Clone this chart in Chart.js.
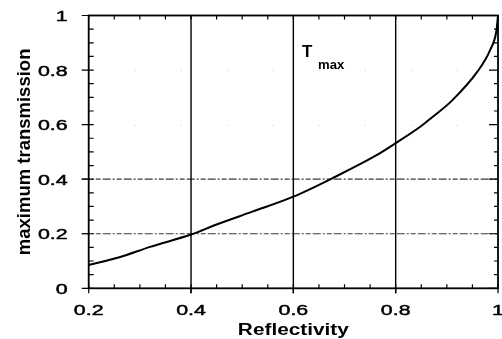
<!DOCTYPE html>
<html><head><meta charset="utf-8">
<script src="https://cdn.jsdelivr.net/npm/chart.js@4/dist/chart.umd.min.js"></script>
<style>html,body{margin:0;padding:0;background:#fff;overflow:hidden}#wrap{width:502px;height:339px;position:relative}</style>
</head><body><div id="wrap"><canvas id="c" width="502" height="339"></canvas></div>
<script>
// ---- data ----
const reflectivity    = [0.2, 0.26, 0.32, 0.4, 0.45, 0.52, 0.6, 0.68, 0.76, 0.8, 0.85, 0.87, 0.91, 0.96, 0.985, 0.997, 1.0];
const maxTransmission = [0.085, 0.114, 0.152, 0.197, 0.234, 0.281, 0.336, 0.407, 0.485, 0.532, 0.595, 0.625, 0.688, 0.795, 0.875, 0.945, 1.0];
const xTickLabels = ['0.2', '0.4', '0.6', '0.8', '1'];
const yTickLabels = ['0', '0.2', '0.4', '0.6', '0.8', '1'];
const xGridValues = [0.4, 0.6, 0.8];
const yGridDashed = [0.2, 0.4];
const yGridFaint  = [0.6, 0.8];
const xTitle = 'Reflectivity';
const yTitle = 'maximum transmission';
const curveMain = 'T';
const curveSub = 'max';

function sText(ctx, txt, x, y, font, align, sx, stroke) {
  ctx.save();
  ctx.translate(x, y);
  ctx.scale(sx, 1);
  ctx.font = font;
  ctx.textAlign = align;
  ctx.textBaseline = 'alphabetic';
  ctx.fillStyle = '#000';
  ctx.fillText(txt, 0, 0);
  if (stroke) { ctx.strokeStyle = '#000'; ctx.lineWidth = stroke; ctx.strokeText(txt, 0, 0); }
  ctx.restore();
}

const framePlugin = {
  id: 'frame',
  beforeDatasetsDraw(chart) {
    const ctx = chart.ctx, xs = chart.scales.x, ys = chart.scales.y, a = chart.chartArea;
    ctx.save();
    // very faint horizontal grid
    ctx.strokeStyle = 'rgba(0,0,0,0.22)'; ctx.lineWidth = 1; ctx.setLineDash([1, 45]);
    yGridFaint.forEach(v => { const y = Math.round(ys.getPixelForValue(v)) + 0.5; ctx.beginPath(); ctx.moveTo(a.left, y); ctx.lineTo(a.right, y); ctx.stroke(); });
    // dash-dot horizontal grid
    ctx.strokeStyle = '#3a3a3a'; ctx.lineWidth = 1.2; ctx.setLineDash([8, 2, 2, 2, 5, 2]);
    yGridDashed.forEach(v => { const y = ys.getPixelForValue(v); ctx.beginPath(); ctx.moveTo(a.left - 7, y); ctx.lineTo(a.right, y); ctx.stroke(); });
    ctx.setLineDash([]);
    // vertical grid
    ctx.strokeStyle = '#000'; ctx.lineWidth = 1.4;
    xGridValues.forEach(v => { const x = xs.getPixelForValue(v); ctx.beginPath(); ctx.moveTo(x, a.top); ctx.lineTo(x, a.bottom + 5); ctx.stroke(); });
    // frame
    ctx.lineWidth = 1.8;
    ctx.strokeRect(a.left, a.top, a.right - a.left, a.bottom - a.top);
    // minor/major ticks
    ctx.lineWidth = 1.2;
    for (let i = 0; i <= 16; i++) {
      const v = 0.2 + i * 0.05; const x = xs.getPixelForValue(v);
      const major = i % 4 === 0;
      ctx.beginPath();
      ctx.moveTo(x, a.bottom - 4); ctx.lineTo(x, a.bottom + (major ? 5 : 0));
      ctx.moveTo(x, a.top); ctx.lineTo(x, a.top + 4);
      ctx.stroke();
    }
    for (let i = 0; i <= 20; i++) {
      const v = i * 0.05; const y = ys.getPixelForValue(v);
      const major = i % 4 === 0;
      ctx.beginPath();
      ctx.moveTo(a.left - (major ? 7 : 0), y); ctx.lineTo(a.left + 5, y);
      ctx.moveTo(a.right - (major ? 9 : 4), y); ctx.lineTo(a.right, y);
      ctx.stroke();
    }
    ctx.restore();
  },
  afterDraw(chart) {
    const ctx = chart.ctx, xs = chart.scales.x, ys = chart.scales.y, a = chart.chartArea;
    const tickFont = '15.5px "Liberation Sans", Arial, sans-serif';
    xTickLabels.forEach(t => {
      sText(ctx, t, xs.getPixelForValue(parseFloat(t)), a.bottom + 27, tickFont, 'center', 1.38, 0.5);
    });
    yTickLabels.forEach(t => {
      sText(ctx, t, a.left - 21, ys.getPixelForValue(parseFloat(t)) + 5.5, tickFont, 'right', 1.38, 0.5);
    });
    sText(ctx, xTitle, (a.left + a.right) / 2, 335, 'bold 16px "Liberation Sans", Arial, sans-serif', 'center', 1.3);
    ctx.save();
    ctx.translate(30, (a.top + a.bottom) / 2);
    ctx.rotate(-Math.PI / 2);
    ctx.font = 'bold 18.5px "Liberation Sans", Arial, sans-serif';
    ctx.textAlign = 'center'; ctx.textBaseline = 'alphabetic'; ctx.fillStyle = '#000';
    ctx.fillText(yTitle, 0, 0);
    ctx.restore();
    sText(ctx, curveMain, 302, 57, 'bold 17px "Liberation Sans", Arial, sans-serif', 'left', 1.0);
    sText(ctx, curveSub, 318, 68.5, 'bold 12.5px "Liberation Sans", Arial, sans-serif', 'left', 1.05);
  }
};

new Chart(document.getElementById('c'), {
  type: 'line',
  data: {
    datasets: [{
      data: reflectivity.map((r, i) => ({ x: r, y: maxTransmission[i] })),
      borderColor: '#000', borderWidth: 2, pointRadius: 0,
      cubicInterpolationMode: 'monotone', fill: false, clip: false
    }]
  },
  options: {
    responsive: false, animation: false, devicePixelRatio: 1,
    layout: { padding: { top: 15.5, right: 4, left: 0, bottom: 0 } },
    plugins: { legend: { display: false }, tooltip: { enabled: false } },
    scales: {
      x: { type: 'linear', min: 0.2, max: 1, grid: { display: false, drawTicks: false }, border: { display: false }, ticks: { display: false }, afterFit(s) { s.height = 50.7; } },
      y: { type: 'linear', min: 0, max: 1, grid: { display: false, drawTicks: false }, border: { display: false }, ticks: { display: false }, afterFit(s) { s.width = 88.7; } }
    }
  },
  plugins: [framePlugin]
});
</script></body></html>
